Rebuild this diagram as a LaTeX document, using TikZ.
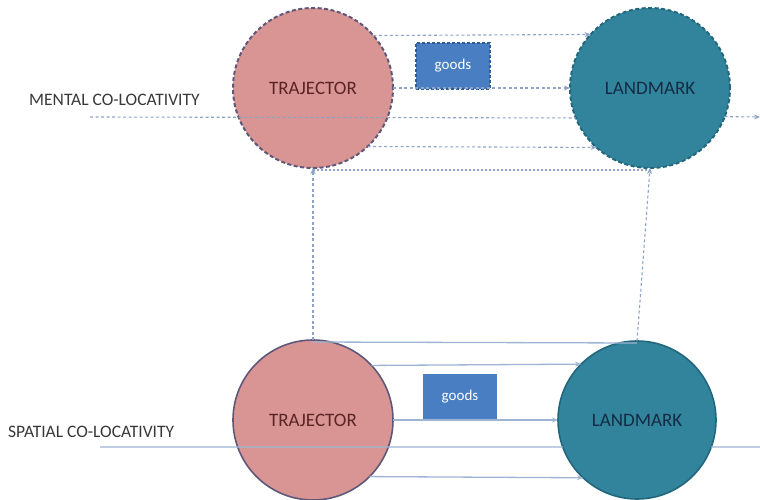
\documentclass[tikz,border=0pt]{standalone}
\usepackage{fontspec}
\setmainfont{Carlito}
\usetikzlibrary{arrows.meta}
\definecolor{trajfill}{HTML}{D99594}
\definecolor{trajborder}{HTML}{5E5878}
\definecolor{trajtext}{HTML}{5A2424}
\definecolor{landfill}{HTML}{31849B}
\definecolor{landborder}{HTML}{22677C}
\definecolor{landtext}{HTML}{142B45}
\definecolor{goodsfill}{HTML}{4A7EC2}
\definecolor{goodsborder}{HTML}{2E5C96}
\definecolor{linecol}{HTML}{9DB4D2}
\definecolor{dashcol}{HTML}{8EA4C6}
\definecolor{labelcol}{HTML}{383838}
\tikzset{
  traj/.style={circle, minimum size=160pt, inner sep=0pt, outer sep=0pt, fill=trajfill, draw=trajborder, text=trajtext, font=\fontsize{19}{19}\selectfont},
  land/.style={circle, minimum size=160pt, inner sep=0pt, outer sep=0pt, fill=landfill, draw=landborder, text=landtext, font=\fontsize{19}{19}\selectfont},
  goodsbox/.style={rectangle, minimum width=74pt, minimum height=46pt, inner sep=0pt, fill=goodsfill, text=white, font=\fontsize{15}{15}\selectfont},
  dashborder/.style={line width=2pt, dash pattern=on 4pt off 2.5pt},
  solidborder/.style={line width=1.6pt},
  mline/.style={dashcol, line width=1.1pt, dash pattern=on 3pt off 2.5pt},
  sline/.style={linecol, line width=1.3pt},
  tip/.style={-{Stealth[length=6pt,width=5pt]}},
  lab/.style={text=labelcol, font=\fontsize{17.5}{17.5}\selectfont, inner sep=0pt, anchor=west}
}
\begin{document}
\begin{tikzpicture}[x=1pt,y=-1pt]
\useasboundingbox (0,0) rectangle (760,500);
% labels
\node[lab] (mlab) at (29,100) {MENTAL CO-LOCATIVITY};
\node[lab] (slab) at (8,432) {SPATIAL CO-LOCATIVITY};
% trajectors
\node[traj, dashborder] (tt) at (313,88) {TRAJECTOR};
\node[traj, solidborder] (bt) at (313,420) {TRAJECTOR};
% landmarks
\node[land, dashborder] (tl) at (650,88) {LANDMARK};
\node[land, solidborder, minimum size=158pt] (bl) at (637,420) {LANDMARK};
% goods
\node[goodsbox, draw=goodsborder, line width=1.2pt, dash pattern=on 3pt off 2pt] (tg) at (453,66) {goods};
\node[goodsbox] (bg) at (460,397) {goods};
% mental lines
\coordinate (mL) at (90,117);
\coordinate (mR) at (760,117);
\draw[mline] (mL) -- (tl.-158.7);
\draw[mline, tip] (tl.-21.3) -- (mR);
\draw[mline, tip] (tt.41.5) -- (tl.138.5);
\draw[mline, tip] (tt.east) -- (tl.west);
\draw[mline, tip] (tt.-47.5) -- (tl.-132.5);
\draw[mline, dash pattern=on 2pt off 2pt] ([yshift=-2pt]tt.south) -- ([yshift=-2pt]tl.south);
% spatial lines
\coordinate (sL) at (100,447);
\coordinate (sR) at (760,447);
\draw[sline] (sL) -- (bl.-160);
\draw[sline] (bl.-20) -- (sR);
\draw[sline] ([yshift=-2pt]bt.north) -- ([yshift=-2pt]bl.north);
\draw[sline, tip] (bt.43.4) -- (bl.135.9);
\draw[sline, tip] (bt.east) -- (bl.west);
\draw[sline, tip] (bt.-45.4) -- (bl.-133.8);
% vertical links
\draw[mline, tip] (bt.north) -- (tt.south);
\draw[mline, tip] (bl.north) -- (tl.south);
\end{tikzpicture}
\end{document}
